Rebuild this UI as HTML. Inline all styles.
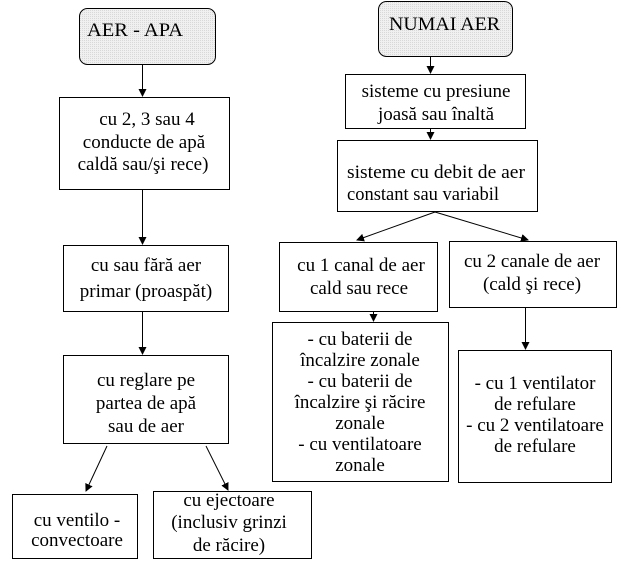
<!DOCTYPE html>
<html><head><style>body{margin:0;background:#fff}svg{display:block}svg text{font-family:"Liberation Serif","DejaVu Serif","Times New Roman",serif;font-size:19px}</style></head><body>
<svg width="627" height="562" xmlns="http://www.w3.org/2000/svg" fill="#000">
<defs>
<pattern id="d" width="2" height="2" patternUnits="userSpaceOnUse"><rect width="2" height="2" fill="#f0f0f0"/><rect width="1" height="1" fill="#d8d8d8"/></pattern>
<marker id="a" markerWidth="8" markerHeight="8" refX="7" refY="4" orient="auto" markerUnits="userSpaceOnUse"><path d="M0,0 L8,4 L0,8 Z" fill="#000"/></marker>
</defs>
<g stroke="#000" stroke-width="1">
<rect x="79.5" y="8.5" width="136" height="56" rx="8" fill="url(#d)"/>
<rect x="378.5" y="1.5" width="134" height="55" rx="8" fill="url(#d)"/>
<rect x="59.5" y="97.5" width="170" height="92" fill="#fff"/>
<rect x="63.5" y="245.5" width="165" height="66" fill="#fff"/>
<rect x="63.5" y="355.5" width="165" height="88" fill="#fff"/>
<rect x="12.5" y="494.5" width="125" height="64" fill="#fff"/>
<rect x="153.5" y="491.5" width="158" height="67" fill="#fff"/>
<rect x="345.5" y="74.5" width="180" height="54" fill="#fff"/>
<rect x="337.5" y="140.5" width="200" height="71" fill="#fff"/>
<rect x="279.5" y="242.5" width="158" height="69" fill="#fff"/>
<rect x="449.5" y="241.5" width="167" height="66" fill="#fff"/>
<rect x="272.5" y="322.5" width="176" height="159" fill="#fff"/>
<rect x="458.5" y="350.5" width="153" height="132" fill="#fff"/>
<g fill="none" marker-end="url(#a)">
<line x1="142.5" y1="64" x2="142.5" y2="96"/>
<line x1="142.5" y1="190" x2="142.5" y2="244"/>
<line x1="142.5" y1="312" x2="142.5" y2="354"/>
<line x1="107" y1="446" x2="86" y2="491"/>
<line x1="206" y1="446" x2="228" y2="490"/>
<line x1="430.5" y1="56" x2="430.5" y2="73"/>
<line x1="430.5" y1="129" x2="430.5" y2="139"/>
<line x1="435" y1="212" x2="357" y2="240"/>
<line x1="435" y1="212" x2="528" y2="240"/>
<line x1="373.5" y1="312" x2="373.5" y2="321"/>
<line x1="525.5" y1="308" x2="525.5" y2="349"/>
</g>
</g>
<text x="87" y="36" textLength="96" lengthAdjust="spacingAndGlyphs">AER - APA</text>
<text x="389" y="30" textLength="111" lengthAdjust="spacingAndGlyphs">NUMAI AER</text>
<text x="347" y="178" textLength="178" lengthAdjust="spacingAndGlyphs">sisteme cu debit de aer</text>
<text x="347" y="200" textLength="152" lengthAdjust="spacingAndGlyphs">constant sau variabil</text>
<g text-anchor="middle">
<text x="147" y="125">cu 2, 3 sau 4</text>
<text x="144" y="148">conducte de apă</text>
<text x="143" y="170">caldă sau/şi rece)</text>
<text x="146" y="271">cu sau fără aer</text>
<text x="146" y="297">primar (proaspăt)</text>
<text x="146" y="386">cu reglare pe</text>
<text x="146" y="409">partea de apă</text>
<text x="146" y="432">sau de aer</text>
<text x="77" y="526">cu ventilo -</text>
<text x="77" y="546">convectoare</text>
<text x="229" y="506">cu ejectoare</text>
<text x="229" y="528">(inclusiv grinzi</text>
<text x="229" y="551">de răcire)</text>
<text x="436" y="97">sisteme cu presiune</text>
<text x="436" y="120">joasă sau  înaltă</text>
<text x="361" y="271">cu 1 canal  de aer</text>
<text x="359" y="294">cald sau rece</text>
<text x="532" y="267">cu 2 canale de aer</text>
<text x="532" y="290">(cald şi rece)</text>
<text x="360" y="345">- cu baterii de</text>
<text x="360" y="366">încalzire zonale</text>
<text x="360" y="387">- cu baterii de</text>
<text x="360" y="408">încalzire şi răcire</text>
<text x="360" y="429">zonale</text>
<text x="360" y="450">- cu ventilatoare</text>
<text x="360" y="471">zonale</text>
<text x="535" y="389">- cu 1 ventilator</text>
<text x="535" y="410">de refulare</text>
<text x="535" y="431">- cu 2 ventilatoare</text>
<text x="535" y="452">de refulare</text>
</g>
</svg>
</body></html>
